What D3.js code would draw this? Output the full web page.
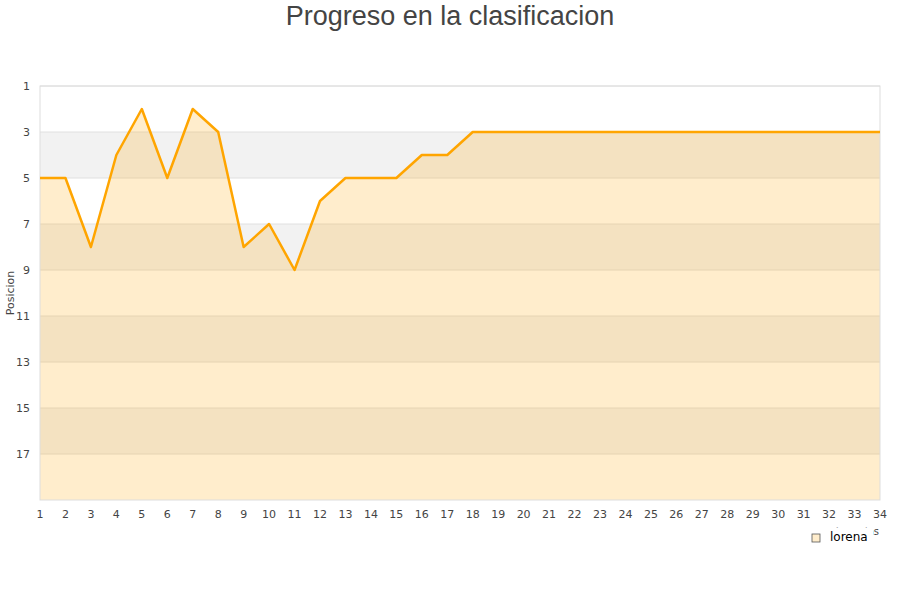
<!DOCTYPE html>
<html>
<head>
<meta charset="utf-8">
<script src="https://cdn.jsdelivr.net/npm/d3@7"></script>
<style>
  body { margin: 0; background: #fff; }
  svg { font-family: "DejaVu Sans", Verdana, sans-serif; }
</style>
</head>
<body>
<svg width="900" height="600"></svg>
<script>
const TITLE = "Progreso en la clasificacion"
const Y_TITLE = "Posicion"
const X_TITLE = "Jornadas"
const SERIES_NAME = "lorena"

const jornadas = d3.range(1, 35)
const posiciones = [5, 5, 8, 4, 2, 5, 2, 3, 8, 7, 9, 6, 5, 5, 5, 4, 4, 3,
    3, 3, 3, 3, 3, 3, 3, 3, 3, 3, 3, 3, 3, 3, 3, 3]
const yTicks = [1, 3, 5, 7, 9, 11, 13, 15, 17]
const bands = [[3, 5], [7, 9], [11, 13], [15, 17]]

const margin = { top: 86, right: 20, bottom: 100, left: 40 },
    width = 900 - margin.left - margin.right,
    height = 600 - margin.top - margin.bottom;

const data = jornadas.map((j, i) => ({ j: j, p: posiciones[i] }))

const x = d3.scaleLinear().domain([1, 34]).range([0, width]);
const y = d3.scaleLinear().domain([1, 19]).range([0, height]);

const svg = d3.select("svg")

svg.append("text")
    .attr("x", 450)
    .attr("y", 25)
    .attr("text-anchor", "middle")
    .style("font-family", "'Liberation Sans', Arial, sans-serif")
    .style("font-size", "27px")
    .style("fill", "#444")
    .text(TITLE);

const g = svg.append("g")
    .attr("transform", "translate(" + margin.left + "," + margin.top + ")");

// alternating bands
g.selectAll("rect.band")
    .data(bands)
    .enter().append("rect")
    .attr("class", "band")
    .attr("x", 0)
    .attr("width", width)
    .attr("y", d => y(d[0]))
    .attr("height", d => y(d[1]) - y(d[0]))
    .style("fill", "#f2f2f2");

// grid
g.selectAll("line.grid")
    .data(yTicks)
    .enter().append("line")
    .attr("x1", 0).attr("x2", width)
    .attr("y1", d => y(d)).attr("y2", d => y(d))
    .style("stroke", "#e0e0e0");

const area = d3.area()
    .x(d => x(d.j))
    .y0(height)
    .y1(d => y(d.p));

const line = d3.line()
    .x(d => x(d.j))
    .y(d => y(d.p));

g.append("path")
    .datum(data)
    .attr("d", area)
    .style("fill", "rgba(255,165,0,0.2)");

g.append("rect")
    .attr("width", width)
    .attr("height", height)
    .style("fill", "none")
    .style("stroke", "#ddd");

g.append("path")
    .datum(data)
    .attr("d", line)
    .style("fill", "none")
    .style("stroke", "#ffa500")
    .style("stroke-width", 2.5)
    .style("stroke-linejoin", "round");

// y axis labels
g.selectAll("text.ytick")
    .data(yTicks)
    .enter().append("text")
    .attr("x", -10)
    .attr("y", d => y(d))
    .attr("dy", "0.35em")
    .attr("text-anchor", "end")
    .style("font-size", "11px")
    .style("fill", "#444")
    .text(d => d);

// x axis labels
g.selectAll("text.xtick")
    .data(jornadas)
    .enter().append("text")
    .attr("x", d => x(d))
    .attr("y", height + 18)
    .attr("text-anchor", "middle")
    .style("font-size", "11px")
    .style("fill", "#444")
    .text(d => d);

svg.append("text")
    .attr("transform", "translate(14," + (margin.top + height / 2) + ") rotate(-90)")
    .attr("text-anchor", "middle")
    .style("font-size", "11px")
    .style("fill", "#444")
    .text(Y_TITLE);

// x title, mostly hidden behind the legend
svg.append("text")
    .attr("x", 879)
    .attr("y", 535)
    .attr("text-anchor", "end")
    .style("font-size", "10px")
    .style("fill", "#444")
    .text(X_TITLE);

// legend
const legend = svg.append("g").attr("transform", "translate(806,527.5)");
legend.append("rect")
    .attr("width", 67)
    .attr("height", 22)
    .style("fill", "#fff");
legend.append("rect")
    .attr("x", 6).attr("y", 6.5)
    .attr("width", 8).attr("height", 8)
    .style("fill", "#ffedcc")
    .style("stroke", "#555")
    .style("stroke-width", 0.8);
legend.append("text")
    .attr("x", 24)
    .attr("y", 13.5)
    .style("font-size", "12px")
    .style("fill", "#000")
    .text(SERIES_NAME);
</script>
</body>
</html>
